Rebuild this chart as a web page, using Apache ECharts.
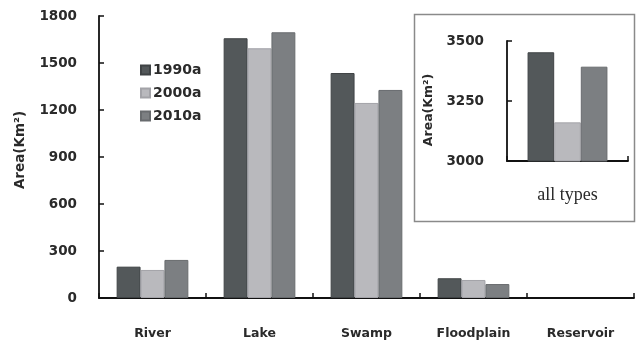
<!DOCTYPE html>
<html><head><meta charset="utf-8">
<script src="https://cdn.jsdelivr.net/npm/echarts@6/dist/echarts.min.js"></script>
<style>html,body{margin:0;padding:0;background:#fff}#c{width:637px;height:344px}</style>
</head><body><div id="c"></div>
<script>
const categories = ['River', 'Lake', 'Swamp', 'Floodplain', 'Reservoir'];
const seriesNames = ['1990a', '2000a', '2010a'];
const values1990 = [200, 1658, 1436, 126, 0];
const values2000 = [179, 1594, 1245, 115, 0];
const values2010 = [243, 1696, 1328, 89, 0];
const insetCategories = ['all types'];
const inset1990 = [3453];
const inset2000 = [3161];
const inset2010 = [3393];
const yTicks = [0, 300, 600, 900, 1200, 1500, 1800];
const insetTicks = [3000, 3250, 3500];

const colors = ['#53585a', '#b9b9bd', '#7c7f82'];
const borders = ['#3f4345', '#a3a3a8', '#686b6e'];
const font = 'DejaVu Sans';
const txt = '#2a2a2a';
const axisLine = { show: true, lineStyle: { color: '#111', width: 1.8 } };
const axisTick = { show: true, inside: true, length: 5, lineStyle: { color: '#111', width: 1.5 } };

const mainData = [values1990, values2000, values2010];
const insetData = [inset1990, inset2000, inset2010];
const toItems = arr => arr.map(v => v === 0 ? { value: v, itemStyle: { borderWidth: 0 } } : v);

const series = [];
seriesNames.forEach((n, i) => {
  series.push({ name: n, type: 'bar', xAxisIndex: 0, yAxisIndex: 0, data: toItems(mainData[i]),
    barGap: '0%', barCategoryGap: '33%',
    itemStyle: { color: colors[i], borderColor: borders[i], borderWidth: 1 } });
});
seriesNames.forEach((n, i) => {
  series.push({ name: n, type: 'bar', xAxisIndex: 1, yAxisIndex: 1, data: toItems(insetData[i]),
    barGap: '0%', barCategoryGap: '34%',
    itemStyle: { color: colors[i], borderColor: borders[i], borderWidth: 1 } });
});

const lbl = { fontFamily: font, fontSize: 13.5, fontWeight: 'bold', color: txt };

const chart = echarts.init(document.getElementById('c'), null, { renderer: 'canvas' });
chart.setOption({
  animation: false,
  backgroundColor: '#fff',
  textStyle: { fontFamily: font },
  grid: [
    { left: 99, top: 16, right: 3, bottom: 46 },
    { left: 507, top: 41, right: 9, bottom: 183 }
  ],
  graphic: [{
    type: 'rect', left: 412, top: 12, z: -1,
    shape: { width: 220, height: 207 },
    style: { fill: 'none', stroke: '#8a8a8a', lineWidth: 1.5 }
  }],
  legend: {
    data: seriesNames, orient: 'vertical', left: 135, top: 58,
    itemWidth: 9, itemHeight: 9, itemGap: 9,
    icon: 'rect',
    textStyle: { ...lbl, fontSize: 14, lineHeight: 14, padding: [0, 0, 0, -2] }
  },
  xAxis: [
    { type: 'category', gridIndex: 0, data: categories,
      axisLine, axisTick: { ...axisTick, alignWithLabel: false },
      axisLabel: { ...lbl, margin: 29, fontSize: 12.5 } },
    { type: 'category', gridIndex: 1, data: insetCategories,
      axisLine, axisTick,
      axisLabel: { margin: 25, fontFamily: 'Liberation Serif', fontSize: 18, color: txt } }
  ],
  yAxis: [
    { type: 'value', gridIndex: 0, min: 0, max: 1800, interval: 300,
      splitLine: { show: false }, axisLine, axisTick,
      name: 'Area(Km²)', nameLocation: 'middle', nameGap: 72,
      nameTextStyle: { ...lbl, fontSize: 13.5, padding: [0, 0, 0, 14] },
      axisLabel: { ...lbl, margin: 22, formatter: v => yTicks.includes(v) ? String(v) : '' } },
    { type: 'value', gridIndex: 1, min: 3000, max: 3500, interval: 250,
      splitLine: { show: false }, axisLine, axisTick,
      name: 'Area(Km²)', nameLocation: 'middle', nameGap: 72,
      nameTextStyle: { ...lbl, fontSize: 12.5, padding: [0, 18, 0, 0] },
      axisLabel: { ...lbl, margin: 23, formatter: v => insetTicks.includes(v) ? String(v) : '' } }
  ],
  series
});
</script></body></html>
